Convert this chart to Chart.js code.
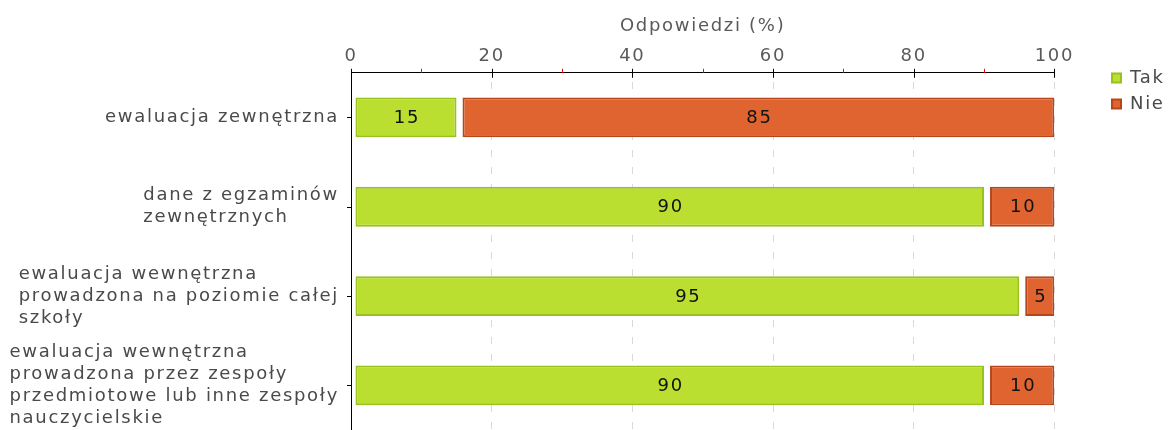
<!DOCTYPE html>
<html><head><meta charset="utf-8">
<script src="https://cdn.jsdelivr.net/npm/chart.js@4.4.1/dist/chart.umd.min.js"></script>
<style>html,body{margin:0;padding:0;background:#fff;overflow:hidden}#wrap{width:1170px;height:430px;position:relative}</style>
</head><body><div id="wrap"><canvas id="c" width="1170" height="430"></canvas></div>
<script>
const categories = [
  ['ewaluacja zewnętrzna'],
  ['dane z egzaminów', 'zewnętrznych'],
  ['ewaluacja wewnętrzna', 'prowadzona na poziomie całej', 'szkoły'],
  ['ewaluacja wewnętrzna', 'prowadzona przez zespoły', 'przedmiotowe lub inne zespoły', 'nauczycielskie']
];
const seriesNames = ['Tak', 'Nie'];
const takValues = [15, 90, 95, 90];
const nieValues = [85, 10, 5, 10];
const xTickValues = [0, 20, 40, 60, 80, 100];
const xMinorTickValues = [10, 30, 50, 70, 90];
const axisTitle = 'Odpowiedzi (%)';

const FONT = '"DejaVu Sans", Verdana, sans-serif';
const FS = 18;
const LS = '1.7px';
const INSETS = [4, 6];
Chart.defaults.font.family = FONT;
Chart.defaults.font.size = FS;

const spacingPlugin = {
  id: 'spacing',
  beforeUpdate(chart) { chart.ctx.letterSpacing = LS; },
  beforeLayout(chart) { chart.ctx.letterSpacing = LS; },
  beforeDraw(chart) { chart.ctx.letterSpacing = LS; }
};

const insetPlugin = {
  id: 'inset',
  afterDatasetsUpdate(chart) {
    chart.data.datasets.forEach((ds, i) => {
      chart.getDatasetMeta(i).data.forEach(el => { el.base = el.base + INSETS[i]; });
    });
  }
};

const legendPosPlugin = {
  id: 'legendPos',
  afterLayout(chart) {
    const lg = chart.legend; if (!lg) return;
    const w = lg.width, h = lg.height;
    lg.left = 1104; lg.right = lg.left + w;
    lg.top = 61; lg.bottom = lg.top + h;
  }
};

function seg(ctx, x1, y1, x2, y2) { ctx.beginPath(); ctx.moveTo(x1, y1); ctx.lineTo(x2, y2); ctx.stroke(); }

const decorPlugin = {
  id: 'decor',
  afterDatasetsDraw(chart) {
    const ctx = chart.ctx;
    const xs = chart.scales.x, ys = chart.scales.y;
    const top = chart.chartArea.top, left = chart.chartArea.left;
    ctx.save();
    ctx.letterSpacing = LS;
    // value labels
    ctx.font = FS + 'px ' + FONT; ctx.fillStyle = '#111'; ctx.textAlign = 'center'; ctx.textBaseline = 'middle';
    chart.data.datasets.forEach((ds, i) => {
      chart.getDatasetMeta(i).data.forEach((el, j) => {
        ctx.fillText(String(ds.data[j]), (el.base + el.x) / 2 + 1, el.y + 1);
      });
    });
    // x ticks
    ctx.lineWidth = 1; ctx.strokeStyle = '#000';
    xTickValues.forEach(v => { const px = Math.round(xs.getPixelForValue(v)) + 0.5; seg(ctx, px, top - 4, px, top + 5); });
    ctx.strokeStyle = '#ff0000';
    xMinorTickValues.forEach(v => { const px = Math.round(xs.getPixelForValue(v)) + 0.5; seg(ctx, px, top - 4, px, top); });
    // y ticks and labels
    ctx.strokeStyle = '#000';
    ctx.fillStyle = '#4a4a4a'; ctx.textAlign = 'left'; ctx.textBaseline = 'middle';
    categories.forEach((lines, i) => {
      const py = ys.getPixelForValue(i);
      seg(ctx, left - 4, Math.round(py) + 0.5, left, Math.round(py) + 0.5);
      const w = Math.max(...lines.map(l => ctx.measureText(l).width));
      const x = left - 12 - w;
      const lh = 22;
      const y0 = py - (lines.length - 1) * lh / 2;
      lines.forEach((l, k) => ctx.fillText(l, x, y0 + k * lh));
    });
    ctx.restore();
  }
};

new Chart(document.getElementById('c'), {
  type: 'bar',
  data: {
    labels: categories,
    datasets: [
      { label: seriesNames[0], data: takValues, backgroundColor: '#BBDF30', borderColor: '#98C21C', borderWidth: 2, borderSkipped: false },
      { label: seriesNames[1], data: nieValues, backgroundColor: '#E0642F', borderColor: '#B8461C', borderWidth: 2, borderSkipped: false }
    ]
  },
  options: {
    indexAxis: 'y',
    responsive: false,
    animation: false,
    events: [],
    layout: { padding: { top: 0, right: 45, bottom: -2, left: 0 } },
    datasets: { bar: { categoryPercentage: 0.446, barPercentage: 1 } },
    scales: {
      x: {
        type: 'linear', position: 'top', stacked: true, min: 0, max: 100,
        afterBuildTicks: s => { s.ticks = xTickValues.map(v => ({ value: v })); },
        grid: { display: true, drawTicks: false, color: '#d9d9d9', lineWidth: 1 },
        border: { display: true, color: '#000', width: 1, dash: [7, 10], dashOffset: 8 },
        ticks: { padding: 5.5, color: '#5a5a5a', font: { size: FS } },
        title: { display: true, text: axisTitle, color: '#5a5a5a', font: { size: FS }, padding: { top: 16, bottom: 2.6 } }
      },
      y: {
        type: 'category', stacked: true,
        grid: { display: false },
        border: { display: true, color: '#000', width: 1 },
        ticks: { display: false },
        afterFit: s => { s.width = 351; }
      }
    },
    plugins: {
      legend: { position: 'right', align: 'start', labels: { boxWidth: 9, boxHeight: 9, padding: 8, color: '#4a4a4a', font: { size: FS } } },
      tooltip: { enabled: false }
    }
  },
  plugins: [spacingPlugin, insetPlugin, legendPosPlugin, decorPlugin]
});
</script>
</body></html>
